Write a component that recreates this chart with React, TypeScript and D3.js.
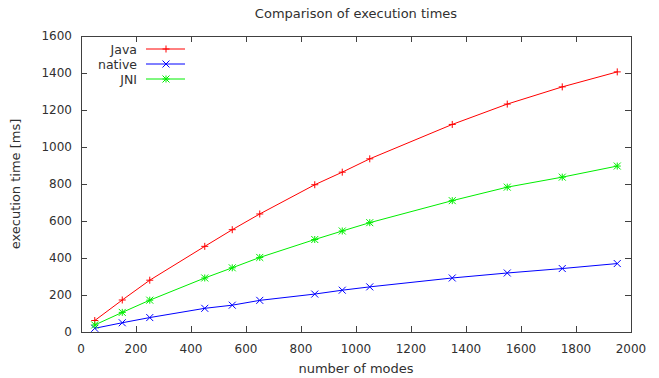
import { useEffect, useRef } from 'react';
import * as d3 from 'd3';

const modes = [50, 150, 250, 450, 550, 650, 850, 950, 1050, 1350, 1550, 1750, 1950];
const javaTimes = [62, 173, 280, 463, 553, 638, 796, 864, 936, 1122, 1232, 1325, 1406];
const nativeTimes = [20, 50, 78, 128, 145, 171, 205, 226, 244, 292, 319, 343, 370];
const jniTimes = [38, 106, 172, 292, 347, 403, 500, 546, 591, 710, 783, 837, 897];
const xTicks = [0, 200, 400, 600, 800, 1000, 1200, 1400, 1600, 1800, 2000];
const yTicks = [0, 200, 400, 600, 800, 1000, 1200, 1400, 1600];

const WIDTH = 659;
const HEIGHT = 378;
const margin = { top: 36, right: 28, bottom: 46, left: 81 };
const axisColor = '#404040';
const font = '"DejaVu Sans", sans-serif';

type Marker = 'plus' | 'cross' | 'star';

const seriesList: { name: string; values: number[]; color: string; marker: Marker }[] = [
  { name: 'Java', values: javaTimes, color: '#ff0000', marker: 'plus' },
  { name: 'native', values: nativeTimes, color: '#0000ff', marker: 'cross' },
  { name: 'JNI', values: jniTimes, color: '#00ee00', marker: 'star' }
];

const markerPath = (type: Marker, x: number, y: number, s = 3.5) => {
  const plus = `M${x - s},${y}H${x + s}M${x},${y - s}V${y + s}`;
  const cross = `M${x - s},${y - s}L${x + s},${y + s}M${x - s},${y + s}L${x + s},${y - s}`;
  if (type === 'plus') return plus;
  if (type === 'cross') return cross;
  return plus + cross;
};

export default function App() {
  const svgRef = useRef<SVGSVGElement>(null);

  useEffect(() => {
    if (!svgRef.current) return;
    const svg = d3.select(svgRef.current);
    svg.selectAll('*').remove();

    const x0 = margin.left;
    const x1 = WIDTH - margin.right;
    const y0 = HEIGHT - margin.bottom;
    const y1 = margin.top;

    const xScale = d3.scaleLinear().domain([0, 2000]).range([x0, x1]);
    const yScale = d3.scaleLinear().domain([0, 1600]).range([y0, y1]);

    // ticks (inward, mirrored)
    const ticks = svg.append('g').attr('stroke', axisColor).attr('stroke-width', 1);
    xTicks.forEach((t) => {
      const x = Math.round(xScale(t)) + 0.5;
      ticks.append('line').attr('x1', x).attr('x2', x).attr('y1', y0).attr('y2', y0 - 6);
      ticks.append('line').attr('x1', x).attr('x2', x).attr('y1', y1).attr('y2', y1 + 6);
    });
    yTicks.forEach((t) => {
      const y = Math.round(yScale(t)) + 0.5;
      ticks.append('line').attr('x1', x0).attr('x2', x0 + 6).attr('y1', y).attr('y2', y);
      ticks.append('line').attr('x1', x1).attr('x2', x1 - 6).attr('y1', y).attr('y2', y);
    });

    svg
      .append('rect')
      .attr('x', Math.round(x0) + 0.5)
      .attr('y', Math.round(y1) + 0.5)
      .attr('width', Math.round(x1 - x0))
      .attr('height', Math.round(y0 - y1))
      .attr('fill', 'none')
      .attr('stroke', axisColor)
      .attr('stroke-width', 1);

    const labels = svg.append('g').attr('font-family', font).attr('font-size', 13).attr('fill', '#303030');

    labels
      .selectAll('text.xt')
      .data(xTicks)
      .enter()
      .append('text')
      .attr('x', (d) => xScale(d))
      .attr('y', y0 + 21)
      .attr('font-size', 12)
      .attr('text-anchor', 'middle')
      .text((d) => d);

    labels
      .selectAll('text.yt')
      .data(yTicks)
      .enter()
      .append('text')
      .attr('x', x0 - 9)
      .attr('y', (d) => yScale(d) + 4)
      .attr('font-size', 12)
      .attr('text-anchor', 'end')
      .text((d) => d);

    labels
      .append('text')
      .attr('x', 356)
      .attr('y', 18)
      .attr('text-anchor', 'middle')
      .text('Comparison of execution times');

    labels
      .append('text')
      .attr('x', 356)
      .attr('y', 373)
      .attr('text-anchor', 'middle')
      .text('number of modes');

    labels
      .append('text')
      .attr('transform', `translate(20, ${(y0 + y1) / 2}) rotate(-90)`)
      .attr('text-anchor', 'middle')
      .text('execution time [ms]');

    const line = d3
      .line<number>()
      .x((_, i) => xScale(modes[i]))
      .y((d) => yScale(d));

    seriesList.forEach((s, k) => {
      const g = svg.append('g').attr('stroke', s.color).attr('fill', 'none').attr('stroke-width', 1);
      g.append('path').attr('d', line(s.values));
      g.selectAll('path.m')
        .data(s.values)
        .enter()
        .append('path')
        .attr('d', (d, i) => markerPath(s.marker, xScale(modes[i]), yScale(d)));

      // legend
      const ly = 49 + k * 15;
      g.append('line').attr('x1', 146).attr('x2', 185).attr('y1', ly).attr('y2', ly);
      g.append('path').attr('d', markerPath(s.marker, 166, ly));
      labels
        .append('text')
        .attr('x', 137)
        .attr('y', ly + 4.5)
        .attr('font-size', 12.5)
        .attr('text-anchor', 'end')
        .text(s.name);
    });
  }, []);

  return (
    <svg
      ref={svgRef}
      width={WIDTH}
      height={HEIGHT}
      style={{ position: 'absolute', left: 0, top: 0, background: '#fff' }}
    />
  );
}
